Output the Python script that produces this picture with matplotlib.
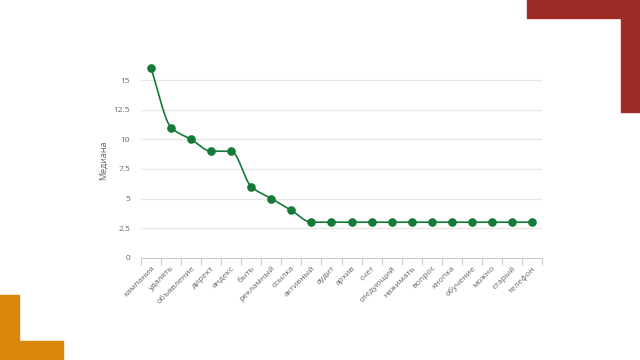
import numpy as np
import matplotlib
matplotlib.use("Agg")
import matplotlib.pyplot as plt
from matplotlib.patches import Rectangle

words = ["кампания", "удалять", "объявление", "директ", "яндекс", "быть",
         "рекламный", "ссылка", "активный", "аудит", "архив", "счет",
         "следующий", "нажимать", "вопрос", "кнопка", "обучение", "можно",
         "старый", "телефон"]
median = [16, 11, 10, 9, 9, 6, 5, 4, 3, 3, 3, 3, 3, 3, 3, 3, 3, 3, 3, 3]
yticks = [0, 2.5, 5, 7.5, 10, 12.5, 15]
ytick_labels = ["0", "2.5", "5", "7.5", "10", "12.5", "15"]

plt.rcParams['font.family'] = ['Open Sans', 'DejaVu Sans']


def monotone_cubic(x, y, n=30):
    x = np.asarray(x, float)
    y = np.asarray(y, float)
    h = np.diff(x)
    d = np.diff(y) / h
    m = np.zeros_like(y)
    m[0], m[-1] = d[0], d[-1]
    for i in range(1, len(y) - 1):
        if d[i - 1] * d[i] <= 0:
            m[i] = 0
        else:
            m[i] = 2 * d[i - 1] * d[i] / (d[i - 1] + d[i])
    xs, ys = [], []
    for i in range(len(x) - 1):
        t = np.linspace(0, 1, n)
        h00 = 2 * t**3 - 3 * t**2 + 1
        h10 = t**3 - 2 * t**2 + t
        h01 = -2 * t**3 + 3 * t**2
        h11 = t**3 - t**2
        xs.append(x[i] + t * h[i])
        ys.append(h00 * y[i] + h10 * h[i] * m[i] + h01 * y[i + 1] + h11 * h[i] * m[i + 1])
    return np.concatenate(xs), np.concatenate(ys)


fig = plt.figure(figsize=(6.4, 3.6), dpi=100)
ax = fig.add_axes([141 / 640, 1 - 257.7 / 360, 401 / 640, (257.7 - 63) / 360])

x = np.arange(len(words))
green = "#137a38"
sx, sy = monotone_cubic(x, median)
ax.plot(sx, sy, color=green, lw=1.2, zorder=3)
ax.plot(x, median, 'o', color=green, ms=5.2, zorder=4)

ax.set_xlim(-0.5, len(words) - 0.5)
ax.set_ylim(0, 16.45)
ax.set_yticks(yticks)
ax.set_yticklabels(ytick_labels)
ax.set_xticks(x)
ax.set_xticklabels(words, rotation=45, ha='right', rotation_mode='anchor')
ax.set_xticks(np.arange(len(words) + 1) - 0.5, minor=True)
ax.tick_params(axis='x', which='major', length=0, pad=5, labelsize=6, labelcolor='#666666')
ax.tick_params(axis='x', which='minor', length=5, color='#cccccc', width=0.8)
ax.tick_params(axis='y', length=0, pad=8, labelsize=6, labelcolor='#666666')
for yv in yticks[1:]:
    ax.axhline(yv, color='#e6e6e6', lw=0.9, zorder=1)
for s in ['top', 'right', 'left']:
    ax.spines[s].set_visible(False)
ax.spines['bottom'].set_color('#cccccc')
ax.spines['bottom'].set_linewidth(0.8)
ax.set_ylabel("Медиана", fontsize=6.5, color='#666666', labelpad=4)

red = "#9e2a25"
orange = "#d9870a"
fig.patches.append(Rectangle((527 / 640, 1 - 18 / 360), 113 / 640, 18 / 360,
                             transform=fig.transFigure, color=red, zorder=0))
fig.patches.append(Rectangle((621 / 640, 1 - 112 / 360), 19 / 640, 112 / 360,
                             transform=fig.transFigure, color=red, zorder=0))
fig.patches.append(Rectangle((0, 0), 19 / 640, 65 / 360,
                             transform=fig.transFigure, color=orange, zorder=0))
fig.patches.append(Rectangle((0, 0), 63 / 640, 19 / 360,
                             transform=fig.transFigure, color=orange, zorder=0))

fig.savefig("out.png", dpi=100)
